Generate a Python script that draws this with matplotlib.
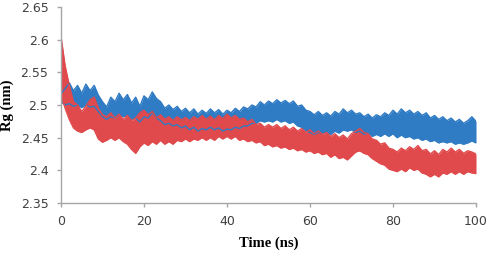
import numpy as np
import matplotlib
matplotlib.use('Agg')
import matplotlib.pyplot as plt

# time axis in ns
time_ns = list(range(0, 101))

# blue run: upper / lower edge of the noisy band (nm)
blue_top = [2.517, 2.525, 2.534, 2.522, 2.530, 2.518, 2.532, 2.522, 2.530, 2.515,
            2.505, 2.497, 2.512, 2.505, 2.518, 2.508, 2.516, 2.503, 2.512, 2.498,
            2.514, 2.508, 2.520, 2.510, 2.505, 2.495, 2.500, 2.493, 2.498, 2.490,
            2.495, 2.488, 2.494, 2.486, 2.492, 2.487, 2.494, 2.488, 2.493, 2.486,
            2.492, 2.488, 2.495, 2.490, 2.497, 2.494, 2.500, 2.497, 2.505, 2.500,
            2.506, 2.502, 2.508, 2.503, 2.507, 2.502, 2.506, 2.498, 2.500, 2.492,
            2.490, 2.485, 2.490, 2.484, 2.488, 2.483, 2.490, 2.486, 2.494, 2.488,
            2.492, 2.486, 2.488, 2.482, 2.486, 2.480, 2.485, 2.482, 2.488, 2.484,
            2.492, 2.486, 2.494, 2.488, 2.492, 2.486, 2.490, 2.484, 2.488, 2.480,
            2.484, 2.478, 2.482, 2.476, 2.480, 2.474, 2.478, 2.472, 2.476, 2.482,
            2.475]
blue_bottom = [2.505, 2.500, 2.502, 2.498, 2.500, 2.496, 2.500, 2.497, 2.498, 2.490,
               2.482, 2.478, 2.482, 2.480, 2.485, 2.482, 2.485, 2.478, 2.480, 2.474,
               2.482, 2.480, 2.488, 2.480, 2.476, 2.470, 2.472, 2.468, 2.470, 2.465,
               2.468, 2.462, 2.466, 2.460, 2.464, 2.462, 2.466, 2.462, 2.465, 2.460,
               2.463, 2.462, 2.466, 2.464, 2.468, 2.468, 2.472, 2.472, 2.476, 2.474,
               2.476, 2.474, 2.478, 2.474, 2.476, 2.472, 2.474, 2.468, 2.466, 2.460,
               2.458, 2.455, 2.458, 2.456, 2.458, 2.455, 2.460, 2.457, 2.462, 2.460,
               2.462, 2.458, 2.460, 2.455, 2.457, 2.452, 2.455, 2.452, 2.456, 2.452,
               2.456, 2.450, 2.454, 2.450, 2.452, 2.448, 2.450, 2.446, 2.448, 2.444,
               2.446, 2.442, 2.444, 2.442, 2.444, 2.440, 2.442, 2.440, 2.442, 2.445,
               2.442]

# red run
red_top = [2.605, 2.560, 2.530, 2.505, 2.500, 2.490, 2.498, 2.508, 2.512, 2.495,
           2.485, 2.482, 2.488, 2.480, 2.486, 2.478, 2.484, 2.476, 2.480, 2.488,
           2.492, 2.485, 2.490, 2.480, 2.485, 2.478, 2.482, 2.476, 2.482, 2.477,
           2.481, 2.476, 2.482, 2.478, 2.484, 2.478, 2.483, 2.477, 2.484, 2.479,
           2.486, 2.480, 2.484, 2.478, 2.480, 2.474, 2.478, 2.470, 2.472, 2.466,
           2.470, 2.466, 2.470, 2.464, 2.468, 2.462, 2.466, 2.460, 2.464, 2.458,
           2.462, 2.456, 2.460, 2.455, 2.458, 2.452, 2.456, 2.450, 2.454, 2.448,
           2.456, 2.460, 2.464, 2.458, 2.456, 2.448, 2.446, 2.440, 2.442, 2.434,
           2.432, 2.428, 2.434, 2.430, 2.436, 2.432, 2.438, 2.430, 2.432, 2.425,
           2.430, 2.424, 2.432, 2.428, 2.434, 2.428, 2.432, 2.426, 2.430, 2.428,
           2.425]
red_bottom = [2.515, 2.495, 2.478, 2.465, 2.460, 2.458, 2.462, 2.465, 2.462, 2.448,
              2.443, 2.446, 2.450, 2.446, 2.450, 2.444, 2.440, 2.432, 2.426, 2.436,
              2.442, 2.438, 2.444, 2.440, 2.446, 2.440, 2.444, 2.440, 2.446, 2.444,
              2.448, 2.444, 2.448, 2.446, 2.450, 2.446, 2.450, 2.446, 2.452, 2.448,
              2.452, 2.448, 2.452, 2.446, 2.448, 2.444, 2.446, 2.442, 2.444, 2.438,
              2.440, 2.436, 2.438, 2.434, 2.436, 2.432, 2.434, 2.430, 2.432, 2.428,
              2.430, 2.426, 2.428, 2.424, 2.426, 2.420, 2.424, 2.418, 2.420, 2.416,
              2.422, 2.428, 2.430, 2.426, 2.424, 2.418, 2.414, 2.410, 2.408, 2.402,
              2.400, 2.398, 2.402, 2.398, 2.404, 2.400, 2.402, 2.396, 2.394, 2.390,
              2.394, 2.390, 2.396, 2.394, 2.398, 2.394, 2.398, 2.394, 2.398, 2.396,
              2.395]

x_ticks = [0, 20, 40, 60, 80, 100]
y_ticks = [2.35, 2.4, 2.45, 2.5, 2.55, 2.6, 2.65]
y_labels = ['2.35', '2.4', '2.45', '2.5', '2.55', '2.6', '2.65']

blue = '#2f7bc4'
red = '#e04a4d'
grey = '#a6a6a6'

fig = plt.figure(figsize=(4.91, 2.54), dpi=100)
ax = fig.add_axes([0.1242, 0.2008, 0.8453, 0.7716])

ax.fill_between(time_ns, blue_bottom, blue_top, color=blue, lw=0)
ax.plot(time_ns, blue_top, color=blue, lw=1.0)
ax.plot(time_ns, blue_bottom, color=blue, lw=1.0)
ax.fill_between(time_ns, red_bottom, red_top, color=red, lw=0)
ax.plot(time_ns, red_top, color=red, lw=1.0)
ax.plot(time_ns, red_bottom, color=red, lw=1.0)

ax.set_xlim(0, 100)
ax.set_ylim(2.35, 2.65)
ax.set_xticks(x_ticks)
ax.set_yticks(y_ticks)
ax.set_yticklabels(y_labels)

for s in ['top', 'right']:
    ax.spines[s].set_visible(False)
for s in ['left', 'bottom']:
    ax.spines[s].set_color(grey)
    ax.spines[s].set_linewidth(1)

ax.tick_params(axis='both', direction='out', length=3, width=1, color=grey,
               labelsize=9, labelcolor='#404040', pad=6)

ax.set_xlabel('Time (ns)', family='Liberation Serif', fontweight='bold', fontsize=10.5, labelpad=6)
ax.set_ylabel('Rg (nm)', family='Liberation Serif', fontweight='bold', fontsize=10.5, labelpad=5)

plt.savefig('out.png', dpi=100)
